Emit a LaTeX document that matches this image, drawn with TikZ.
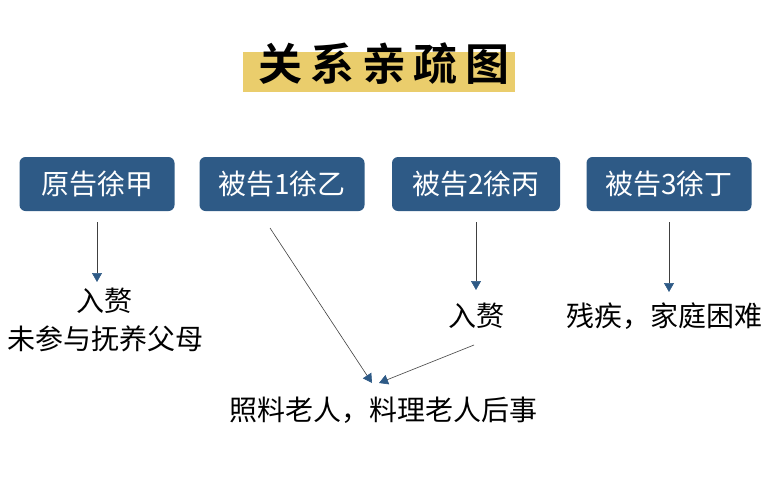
\documentclass[tikz,border=0pt]{standalone}
\usepackage{fontspec}
\setmainfont{Noto Sans CJK SC}[BoldFont={Noto Sans CJK SC Bold}]
\usetikzlibrary{arrows.meta}
\definecolor{boxblue}{HTML}{2E5A86}
\definecolor{bargold}{HTML}{EACD6C}
\begin{document}
\begin{tikzpicture}[x=1pt, y=-1pt,
  party/.style={fill=boxblue, text=white, rounded corners=6pt, minimum height=54pt,
    inner sep=0pt, font=\fontsize{28}{30}\selectfont},
  note/.style={font=\fontsize{28}{38}\selectfont, align=center},
  link/.style={-{Triangle[length=9pt,width=10pt,color=boxblue]}, draw=black!75, line width=0.6pt}]
\useasboundingbox (0,0) rectangle (765,485);
\fill[bargold] (243,52) rectangle (515,92);
\node[font=\fontsize{44}{46}\selectfont\bfseries\addfontfeature{LetterSpace=18}] (title) at (384,64) {关系亲疏图};
\node[party, minimum width=155pt] (yuan) at (97,184) {原告徐甲};
\node[party, minimum width=165pt] (bei1) at (282,184) {被告1徐乙};
\node[party, minimum width=168pt] (bei2) at (476,184) {被告2徐丙};
\node[party, minimum width=165pt] (bei3) at (669,184) {被告3徐丁};
% outcomes
\node[note] (nt1) at (105,320) {入赘\\未参与抚养父母};
\node[note] (nt2) at (476,316) {入赘};
\node[note] (nt3) at (664,316) {残疾，家庭困难};
\node[note] (care) at (383,410) {照料老人，料理老人后事};
\coordinate (c2) at (474,345);
\draw[link] (97,222) -- (97,282);
\draw[link] (476,222) -- (476,290);
\draw[link] (669,222) -- (669,292);
\draw[link] (270,228) -- (372,383);
\draw[link] (c2) -- (379,383);
\end{tikzpicture}
\end{document}
